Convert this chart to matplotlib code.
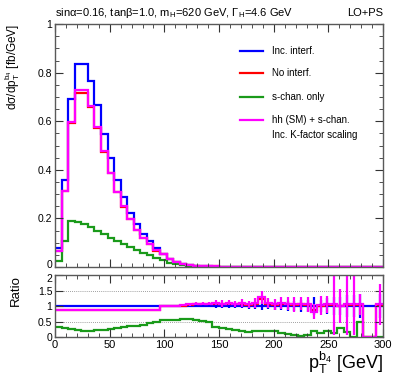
import numpy as np
import matplotlib
matplotlib.use("Agg")
from matplotlib import pyplot as plt
from matplotlib.ticker import MultipleLocator, FormatStrFormatter
from matplotlib.transforms import ScaledTranslation

plt.rcParams['font.family'] = ['Liberation Sans', 'DejaVu Sans']
plt.rcParams['mathtext.fontset'] = 'custom'
plt.rcParams['mathtext.rm'] = 'Liberation Sans'
plt.rcParams['mathtext.it'] = 'Liberation Sans:italic'

# 6 GeV bins from 0 to 300
edges = np.arange(0, 301, 6)

blue = [0.076, 0.357, 0.690, 0.837, 0.837, 0.765, 0.665, 0.549, 0.450, 0.357,
        0.287, 0.224, 0.175, 0.137, 0.107, 0.078, 0.053, 0.033, 0.019, 0.011,
        0.007, 0.005, 0.0035, 0.0025, 0.0018, 0.0013, 0.001, 0.0008, 0.0006, 0.0005,
        0.0004, 0.0003, 0.00025, 0.0002, 0.00016, 0.00013, 0.0001, 0.00008, 0.00006, 0.00005,
        0.00004, 0.00003, 0.00003, 0.00002, 0.00002, 0.00001, 0.00001, 0.00001, 0.00001, 0.00001]
red = [0.065, 0.311, 0.594, 0.718, 0.718, 0.657, 0.572, 0.473, 0.386, 0.307,
       0.248, 0.196, 0.152, 0.119, 0.093, 0.067, 0.052, 0.033, 0.020, 0.011,
       0.0073, 0.0053, 0.0038, 0.0027, 0.002, 0.0014, 0.0011, 0.0008, 0.0007, 0.0005,
       0.0004, 0.0004, 0.0003, 0.0002, 0.00017, 0.00014, 0.0001, 0.00008, 0.00006, 0.00004,
       0.00004, 0.00003, 0.00003, 0.00002, 0.00002, 0.00001, 0.00001, 0.0, 0.0, 0.00001]
magenta = [0.066, 0.313, 0.597, 0.730, 0.730, 0.661, 0.576, 0.476, 0.388, 0.309,
           0.250, 0.197, 0.153, 0.120, 0.094, 0.068, 0.053, 0.034, 0.020, 0.011,
           0.0074, 0.0053, 0.0038, 0.0027, 0.002, 0.0014, 0.0011, 0.0008, 0.0007, 0.0005,
           0.0004, 0.0004, 0.0003, 0.0002, 0.00017, 0.00014, 0.0001, 0.00008, 0.00005, 0.00004,
           0.00004, 0.00003, 0.00003, 0.00002, 0.00002, 0.00001, 0.00001, 0.0, 0.0, 0.00001]
green = [0.024, 0.108, 0.191, 0.186, 0.177, 0.164, 0.150, 0.134, 0.120, 0.107,
         0.095, 0.083, 0.071, 0.058, 0.048, 0.038, 0.029, 0.018, 0.011, 0.006,
         0.004, 0.0028, 0.0018, 0.0012, 0.0006, 0.0004, 0.0003, 0.0002, 0.00012, 0.00008,
         0.00008, 0.00005, 0.00005, 0.00004, 0.00002, 0.00001, 0.0, 0.0, 0.00001, 0.00001,
         0.0, 0.0, 0.0, 0.0, 0.0, 0.0, 0.0, 0.0, 0.0, 0.0]

# ratio panel (w.r.t. "Inc. interf.")
ratio_blue = [1.0] * 50
ratio_red = [0.86, 0.87, 0.86, 0.86, 0.86, 0.86, 0.86, 0.86, 0.86, 0.86,
             0.86, 0.87, 0.87, 0.87, 0.87, 0.87, 0.99, 1.0, 1.0, 1.01,
             1.04, 1.06, 1.07, 1.07, 1.08, 1.07, 1.08, 1.05, 1.08, 1.04,
             1.07, 1.22, 1.08, 1.04, 1.08, 1.06, 1.04, 1.06, 1.04, 0.86,
             1.0, 1.04, 1.04, 1.0, 1.04, 1.04, 1.04, 0.0, 0.0, 1.04]
ratio_mag = [0.88, 0.88, 0.87, 0.87, 0.87, 0.87, 0.87, 0.87, 0.87, 0.87,
             0.87, 0.88, 0.88, 0.88, 0.88, 0.88, 1.0, 1.0, 1.01, 1.02,
             1.05, 1.07, 1.08, 1.08, 1.1, 1.08, 1.1, 1.06, 1.1, 1.05,
             1.1, 1.28, 1.1, 1.05, 1.1, 1.08, 1.05, 1.08, 1.05, 0.82,
             1.02, 1.05, 1.05, 1.0, 1.05, 1.05, 1.05, 0.0, 0.0, 1.05]
ratio_green = [0.31, 0.30, 0.25, 0.22, 0.21, 0.21, 0.22, 0.24, 0.26, 0.28,
               0.31, 0.34, 0.37, 0.40, 0.44, 0.48, 0.54, 0.55, 0.56, 0.57,
               0.57, 0.55, 0.52, 0.48, 0.33, 0.30, 0.27, 0.22, 0.20, 0.16,
               0.20, 0.18, 0.20, 0.18, 0.14, 0.10, 0.05, 0.03, 0.08, 0.18,
               0.12, 0.18, 0.12, 0.30, 0.15, 0.0, 0.5, 0.0, 0.0, 0.0]
err_blue = [0.0] * 20 + [0.02, 0.03, 0.03, 0.04, 0.05, 0.05, 0.06, 0.07, 0.08, 0.09,
                         0.1, 0.12, 0.1, 0.12, 0.14, 0.15, 0.15, 0.18, 0.2, 0.3,
                         0.2, 0.25, 0.3, 0.3, 0.35, 0.35, 0.4, 0.0, 0.0, 0.4]
err_mag = [0.01] * 16 + [0.02, 0.02, 0.03, 0.03,
                         0.04, 0.05, 0.05, 0.06, 0.08, 0.1, 0.08, 0.1, 0.12, 0.1,
                         0.15, 0.22, 0.15, 0.18, 0.2, 0.22, 0.25, 0.2, 0.25, 0.25,
                         0.3, 0.28, 1.0, 0.55, 1.0, 1.0, 0.35, 0.0, 0.0, 0.65]

labels = ['Inc. interf.', 'No interf.', 's-chan. only', 'hh (SM) + s-chan.']
colors = ['#0000ff', '#ff0000', '#1a9a1a', '#ff00ff']

fig = plt.figure(figsize=(3.99, 3.83), dpi=100)
ax = fig.add_axes([0.138, 0.303, 0.822, 0.634])
axr = fig.add_axes([0.138, 0.120, 0.822, 0.162])

centers = 0.5 * (edges[1:] + edges[:-1])
lw = 1.6
for vals, c in zip([blue, red, green, magenta], colors):
    ax.stairs(vals, edges, color=c, lw=lw, baseline=None)

ax.set_xlim(0, 300)
ax.set_ylim(0, 1)
ax.xaxis.set_major_locator(MultipleLocator(50))
ax.xaxis.set_minor_locator(MultipleLocator(10))
ax.yaxis.set_major_locator(MultipleLocator(0.2))
ax.yaxis.set_minor_locator(MultipleLocator(0.05))
ax.yaxis.set_major_formatter(FormatStrFormatter('%g'))
ax.tick_params(labelbottom=False)

# legend drawn by hand, ROOT style
ly = [0.89, 0.80, 0.70, 0.607]
for y, lab, c in zip(ly, labels, colors):
    ax.plot([0.565, 0.635], [y, y], transform=ax.transAxes, color=c, lw=lw)
    ax.text(0.66, y, lab, transform=ax.transAxes, fontsize=7, va='center')
ax.text(0.66, 0.545, 'Inc. K-factor scaling', transform=ax.transAxes, fontsize=7, va='center')

ax.set_ylabel(r'dσ/d$\mathrm{p}_\mathrm{T}^{\mathrm{b}_4}$ [fb/GeV]', fontsize=8.5, loc='top')
ax.yaxis.set_label_coords(-0.1, 1.0)

fig.text(0.138, 0.965, r'sinα=0.16, tanβ=1.0, m$_\mathrm{H}$=620 GeV, Γ$_\mathrm{H}$=4.6 GeV',
         fontsize=8, va='center', ha='left')
fig.text(0.96, 0.965, 'LO+PS', fontsize=8, va='center', ha='right')

# ratio panel
for y in [0.5, 1.0, 1.5]:
    axr.axhline(y, color='0.5', lw=0.6, ls=(0, (1, 1.5)), zorder=0)
axr.stairs(ratio_blue, edges, color=colors[0], lw=lw, baseline=None)
axr.errorbar(centers, ratio_blue, yerr=err_blue, fmt='none', ecolor=colors[0], elinewidth=1.6)
axr.stairs(ratio_red, edges, color=colors[1], lw=lw, baseline=None)
axr.stairs(ratio_green, edges, color=colors[2], lw=lw, baseline=None)
axr.stairs(ratio_mag, edges, color=colors[3], lw=lw, baseline=None)
axr.errorbar(centers, ratio_mag, yerr=err_mag, fmt='none', ecolor=colors[3], elinewidth=1.6)

axr.set_xlim(0, 300)
axr.set_ylim(0, 2)
axr.xaxis.set_major_locator(MultipleLocator(50))
axr.xaxis.set_minor_locator(MultipleLocator(10))
axr.yaxis.set_major_locator(MultipleLocator(0.5))
axr.yaxis.set_major_formatter(FormatStrFormatter('%g'))
axr.set_ylabel('Ratio', fontsize=9.5, loc='top')
axr.yaxis.set_label_coords(-0.1, 1.0)
axr.set_xlabel(r'$\mathrm{p}_\mathrm{T}^{\mathrm{b}_4}$ [GeV]', fontsize=13, loc='right')
axr.xaxis.set_label_coords(1.0, -0.2)

for a in (ax, axr):
    a.tick_params(which='both', direction='in', top=True, right=True, labelsize=7.5, color='0.2', pad=2)
    a.tick_params(which='major', length=6)
    a.tick_params(which='minor', length=3)
    for s in a.spines.values():
        s.set_color('0.35')
        s.set_linewidth(1.0)
axr.tick_params(axis='x', labelsize=8)

# nudge the touching "0" / "2" labels apart a little
fig.canvas.draw()
up = ScaledTranslation(0, 2 / 72, fig.dpi_scale_trans)
down = ScaledTranslation(0, -2 / 72, fig.dpi_scale_trans)
for t in ax.get_yticklabels():
    if t.get_text() == '0':
        t.set_transform(t.get_transform() + up)
for t in axr.get_yticklabels():
    if t.get_text() == '2':
        t.set_transform(t.get_transform() + down)

fig.savefig('out.png', dpi=100)
